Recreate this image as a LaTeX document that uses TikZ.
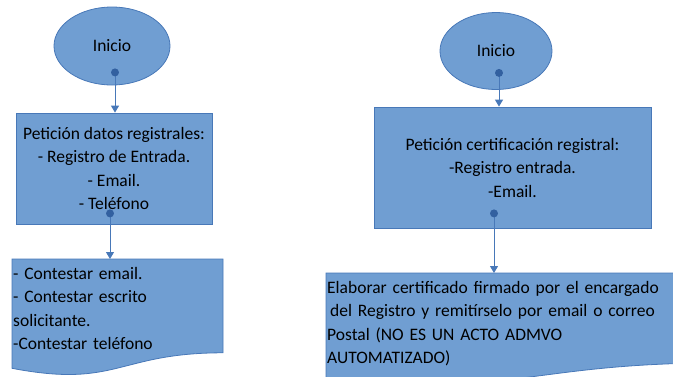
\documentclass[tikz,border=0pt]{standalone}
\usepackage{fontspec}
\setmainfont{Carlito}
\usepackage{tikz}
\usetikzlibrary{arrows.meta, shapes.geometric}
\definecolor{boxfill}{RGB}{112,158,210}
\definecolor{boxedge}{RGB}{72,120,184}
\definecolor{dotblue}{RGB}{50,96,160}
\tikzset{
    txt/.style={font=\fontsize{17.5}{23.5}\selectfont, text=black},
    startnode/.style={ellipse, draw=boxedge, fill=boxfill, line width=0.8pt, txt},
    stepbox/.style={rectangle, draw=boxedge, fill=boxfill, line width=0.8pt, align=center, txt},
    docshape/.style={draw=boxedge, fill=boxfill, line width=0.8pt},
    doctext/.style={anchor=north west, align=left, inner xsep=1pt, inner ysep=8pt, txt},
    conn/.style={draw=boxedge, line width=1pt, -{Triangle[width=8pt,length=7pt]}},
    dot/.style={fill=dotblue}
}

\begin{document}
\begin{tikzpicture}[x=1pt, y=-1pt]
    \useasboundingbox (0, 0) rectangle (673, 376);
    \clip (0, 0) rectangle (673, 376);
    % left column
    \node [startnode, minimum width=116pt, minimum height=78pt] (inicioA) at (112, 46) {Inicio};
    \node [stepbox, minimum width=196pt, minimum height=111pt] (peticionA) at (114, 168.5)
        {Petición datos registrales:\\- Registro de Entrada.\\- Email.\\- Teléfono};
    \filldraw [docshape] (12, 259) -- (223, 259) -- (223, 352.8)
        .. controls (117.5, 352.8) and (117.5, 388.5) .. (12, 368.3) -- cycle;
    \node [doctext, text width=205pt] (respuestaA) at (12, 259)
        {- Contestar email.\\- Contestar escrito\\solicitante.\\-Contestar teléfono};
    \coordinate (dotA1) at ([xshift=3pt, yshift=13pt]inicioA.south);
    \coordinate (dotA2) at ([xshift=-4pt, yshift=11pt]peticionA.south);
    \draw [conn] (dotA1) -- (dotA1 |- peticionA.north);
    \draw [conn] (dotA2) -- (dotA2 |- respuestaA.north);
    \fill [dot] (dotA1) circle (4pt);
    \fill [dot] (dotA2) circle (4pt);
    % right column
    \node [startnode, minimum width=112pt, minimum height=77pt] (inicioB) at (496, 51) {Inicio};
    \node [stepbox, minimum width=277pt, minimum height=121pt] (peticionB) at (512.5, 167.5)
        {Petición certificación registral:\\-Registro entrada.\\-Email.};
    \filldraw [docshape] (326, 273) -- (726, 273) -- (726, 362.8)
        .. controls (526, 362.8) and (526, 397) .. (326, 377.6) -- cycle;
    \node [doctext, text width=380pt] (certificado) at (326, 273)
        {Elaborar certificado firmado por el encargado\\\hspace{3pt}del Registro y remitírselo por email o correo\\Postal (NO ES UN ACTO ADMVO\\AUTOMATIZADO)};
    \coordinate (dotB1) at ([xshift=3pt, yshift=17pt]inicioB.south);
    \coordinate (dotB2) at ([xshift=-18.5pt, yshift=15pt]peticionB.south);
    \draw [conn] (dotB1) -- (dotB1 |- peticionB.north);
    \draw [conn] (dotB2) -- (dotB2 |- certificado.north);
    \fill [dot] (dotB1) circle (4pt);
    \fill [dot] (dotB2) circle (4pt);
\end{tikzpicture}
\end{document}
